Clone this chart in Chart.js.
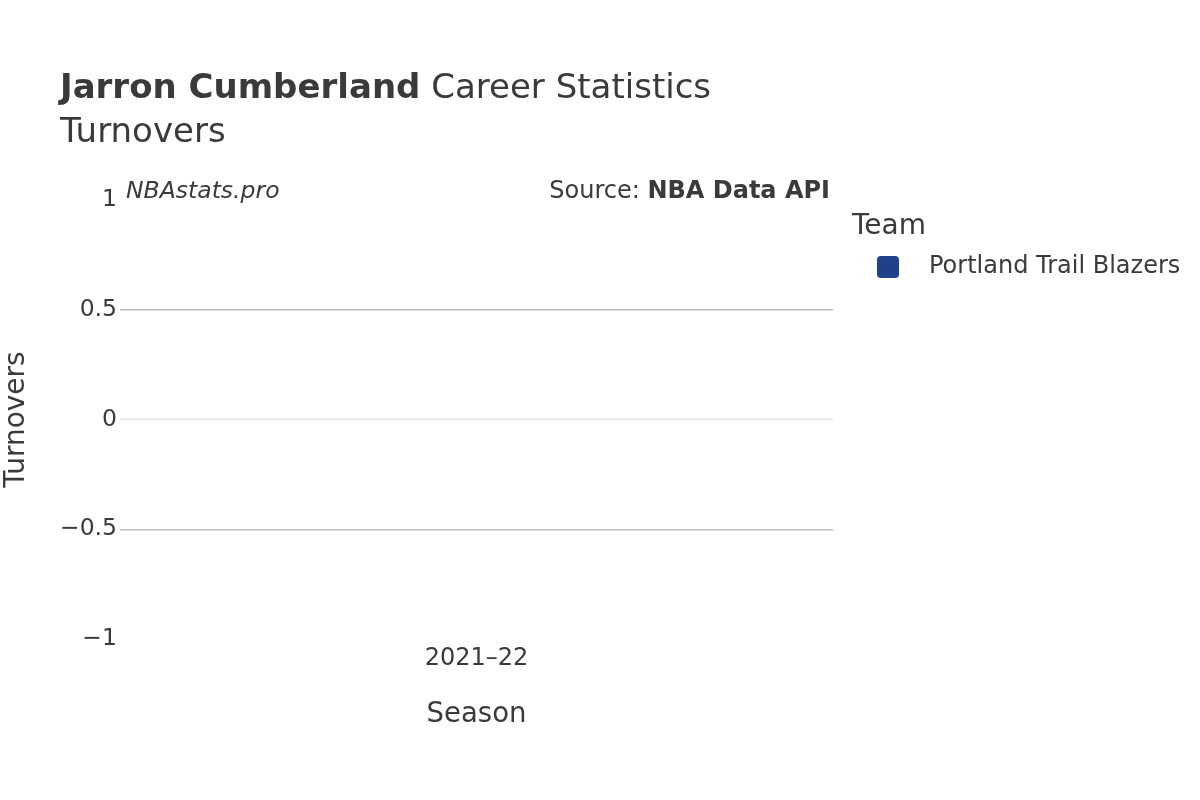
<!DOCTYPE html>
<html>
<head>
<meta charset="utf-8">
<script src="https://cdn.jsdelivr.net/npm/chart.js@4/dist/chart.umd.min.js"></script>
<style>
  html, body { margin: 0; padding: 0; background: #fff; }
  #wrap { width: 1200px; height: 800px; }
</style>
</head>
<body>
<div id="wrap"><canvas id="chart" width="1200" height="800"></canvas></div>
<script>
// data
const seasons = ['2021\u201322'];
const teams = ['Portland Trail Blazers'];
const teamColors = ['#1d428a'];
const turnovers = [0];
const yTicks = [-1, -0.5, 0, 0.5, 1];

const textColor = '#3a3a3a';
const fontFamily = "'DejaVu Sans', sans-serif";

Chart.defaults.font.family = fontFamily;
Chart.defaults.color = textColor;

/**
 * Title, watermark, source and legend text
 */
const annotations = {
    id: 'annotations',
    afterDraw(chart) {
        const c = chart.ctx;
        const area = chart.chartArea;
        c.save();
        c.fillStyle = textColor;
        c.textBaseline = 'middle';
        c.textAlign = 'left';

        // title line 1: bold name + normal text
        c.font = "bold 34px " + fontFamily;
        const name = 'Jarron Cumberland';
        c.fillText(name, 60, 89);
        const w = c.measureText(name).width;
        c.font = "34px " + fontFamily;
        c.fillText(' Career Statistics', 60 + w, 89);
        c.fillText('Turnovers', 60, 133);

        // watermark
        c.font = "italic 23.5px " + fontFamily;
        c.fillText('NBAstats.pro', 126, 192);

        // source
        c.textAlign = 'right';
        c.font = "bold 24px " + fontFamily;
        const src = 'NBA Data API';
        c.fillText(src, area.right - 3, 192);
        const sw = c.measureText(src).width;
        c.font = "24px " + fontFamily;
        c.fillText('Source: ', area.right - 3 - sw, 192);

        // legend
        c.textAlign = 'left';
        c.font = "28px " + fontFamily;
        c.fillText('Team', 852, 227);
        chart.data.datasets.forEach((ds, i) => {
            const y = 267 + i * 30;
            c.fillStyle = ds.backgroundColor;
            c.beginPath();
            c.roundRect(877, y - 11, 22, 22, 4);
            c.fill();
            c.fillStyle = textColor;
            c.font = "24px " + fontFamily;
            c.fillText(ds.label, 929, y);
        });
        c.restore();
    }
};

new Chart(document.getElementById('chart'), {
    type: 'bar',
    data: {
        labels: seasons,
        datasets: teams.map((t, i) => ({
            label: t,
            data: turnovers,
            backgroundColor: teamColors[i],
            borderWidth: 0
        }))
    },
    options: {
        responsive: false,
        animation: false,
        layout: { padding: { left: 0, top: 200, right: 367, bottom: 0 } },
        plugins: {
            legend: { display: false },
            tooltip: { enabled: false }
        },
        scales: {
            x: {
                grid: { display: false, drawTicks: false },
                border: { display: false },
                ticks: { font: { size: 24 }, padding: 5, color: textColor },
                title: {
                    display: true,
                    text: 'Season',
                    font: { size: 27.5 },
                    color: textColor,
                    padding: { top: 69, bottom: 69 }
                },
                afterFit: s => { s.height = 161; }
            },
            y: {
                min: -1,
                max: 1,
                afterBuildTicks: s => { s.ticks = yTicks.map(v => ({ value: v })); },
                grid: {
                    drawTicks: false,
                    color: ctx => ctx.tick && ctx.tick.value === 0 ? '#ebebeb'
                        : (ctx.tick && Math.abs(ctx.tick.value) === 1 ? 'rgba(0,0,0,0)' : '#bdbdbd'),
                    lineWidth: ctx => ctx.tick && ctx.tick.value === 0 ? 2.5 : 1.5
                },
                border: { display: false },
                ticks: {
                    font: { size: 23.5 },
                    padding: 3,
                    color: textColor,
                    callback: v => String(v).replace('-', '\u2212')
                },
                title: {
                    display: true,
                    text: 'Turnovers',
                    font: { size: 28 },
                    color: textColor,
                    padding: { top: 0, bottom: 0 }
                },
                afterFit: s => { s.width = 120; }
            }
        }
    },
    plugins: [annotations]
});
</script>
</body>
</html>
